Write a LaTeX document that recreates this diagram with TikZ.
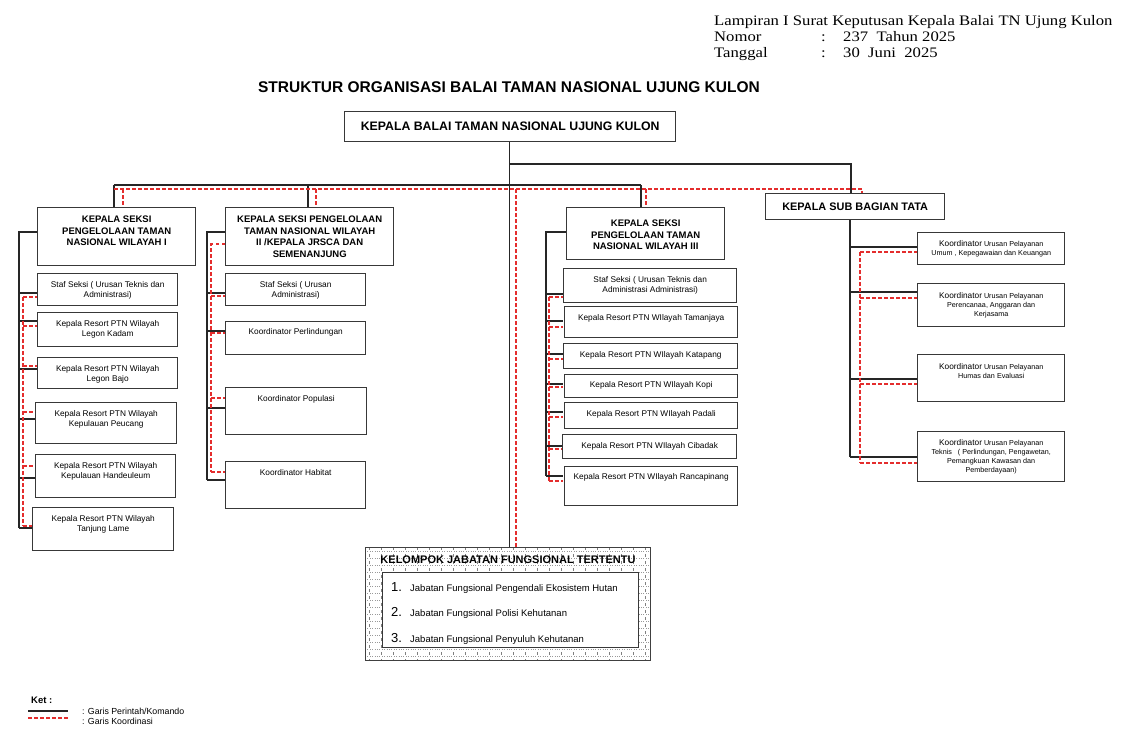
\documentclass[tikz,border=0pt]{standalone}
\usepackage{fontspec}
\setmainfont{Liberation Sans}
\newfontfamily\hdrfont[FakeStretch=1.15]{Liberation Serif}
\definecolor{crd}{RGB}{228,45,45}
\tikzset{
  cmd/.style={draw=black!85, line width=1.1pt},
  crdl/.style={draw=crd, line width=1.1pt, dash pattern=on 3.5pt off 2.5pt},
  obx/.style={draw=black!78, line width=1.4pt, fill=white, inner sep=0pt, anchor=north west},
  tx/.style={inner sep=0pt, anchor=north, align=center, font=\fontsize{8.3}{10}\selectfont},
  tr/.style={inner sep=0pt, anchor=north, align=center, font=\fontsize{7.2}{9}\selectfont},
  hd/.style={inner sep=0pt, anchor=north, align=center, font=\bfseries\fontsize{9.5}{11.7}\selectfont},
  hdr/.style={inner sep=0pt, anchor=base west, font=\hdrfont\fontsize{14.5}{16}\selectfont},
}
\newcommand{\obox}[8]{%
  \node[obx, minimum width=#4pt, minimum height=#5pt] (#1) at (#2,#3) {};
  \node[#6] (#1t) at ([yshift=-#7pt]#1.north) {#8};}
\newcommand{\kd}{{\fontsize{8.3}{9}\selectfont Koordinator}}
\begin{document}
\begin{tikzpicture}[x=1pt,y=-1pt]
\useasboundingbox (0,0) rectangle (1121,742);

% ---------- header ----------
\node[hdr] (h-l1) at (714,25) {Lampiran I Surat Keputusan Kepala Balai TN Ujung Kulon};
\node[hdr] (h-l2) at (714,41.5) {Nomor};
\node[hdr] (h-c2) at (821,41.5) {:};
\node[hdr] (h-v2) at (843,41.5) {237\ \ Tahun 2025};
\node[hdr] (h-l3) at (714,57.5) {Tanggal};
\node[hdr] (h-c3) at (821,57.5) {:};
\node[hdr] (h-v3) at (843,57.5) {30\ \ Juni\ \ 2025};

\node[font=\bfseries\fontsize{15.5}{18}\selectfont, inner sep=0pt] (title) at (509,87) {STRUKTUR ORGANISASI BALAI TAMAN NASIONAL UJUNG KULON};

% top-level lines (drawn first)
\coordinate (kbS) at (509.5,141);
\coordinate (kelN) at (509.5,547);
\draw[cmd] (kbS) -- (kelN);
\draw[cmd] (509.5,164) -- (851,164) -- (851,193);
\draw[cmd] (114,185) -- (641,185);
\draw[cmd] (114,185) -- (114,207);
\draw[cmd] (308,185) -- (308,207);
\draw[cmd] (641,185) -- (641,207);
\draw[crdl] (114,189) -- (862,189) -- (862,193);
\draw[crdl] (123,189) -- (123,207);
\draw[crdl] (316,189) -- (316,207);
\draw[crdl] (516,189) -- (516,547);
\draw[crdl] (646,189) -- (646,207);

% ---------- column I lines ----------
\draw[cmd] (37,232) -- (19,232) -- (19,528);
\foreach \yy/\xx in {293/37,321/37,369/37,419/35,478/35,528/32} \draw[cmd] (19,\yy) -- (\xx,\yy);
\draw[crdl] (23,297) -- (23,526);
\foreach \yy/\xx in {297/37,326/37,366/37,412/35,466/35,526/32} \draw[crdl] (23,\yy) -- (\xx,\yy);

% ---------- column II lines ----------
\draw[cmd] (225,232) -- (207,232) -- (207,480);
\foreach \yy in {293,331,408,480} \draw[cmd] (207,\yy) -- (225,\yy);
\draw[crdl] (225,244) -- (211,244) -- (211,472);
\foreach \yy in {296,333,398,472} \draw[crdl] (211,\yy) -- (225,\yy);

% ---------- column III lines ----------
\draw[cmd] (566,232) -- (546,232) -- (546,476);
\foreach \yy in {294,321,354,384,412,446,476} \draw[cmd] (546,\yy) -- (563,\yy);
\draw[crdl] (549,297) -- (549,481);
\foreach \yy in {297,327,359,387,417,449,481} \draw[crdl] (549,\yy) -- (563,\yy);

% ---------- right column lines ----------
\draw[cmd] (850,219) -- (850,457);
\foreach \yy in {247,292,379,457} \draw[cmd] (850,\yy) -- (917,\yy);
\draw[crdl] (860,252) -- (860,463);
\foreach \yy in {252,298,384,463} \draw[crdl] (860,\yy) -- (917,\yy);

% ---------- boxes ----------
\node[obx, minimum width=331pt, minimum height=30pt] (kb) at (344,111) {};
\node[font=\bfseries\fontsize{12.3}{14}\selectfont, inner sep=0pt] (kbt) at (kb.center) {KEPALA BALAI TAMAN NASIONAL UJUNG KULON};

\obox{h1}{37}{207}{158}{58}{hd}{8.6}{KEPALA SEKSI\\PENGELOLAAN TAMAN\\NASIONAL WILAYAH I}
\obox{h2}{225}{207}{168}{58}{hd}{8.6}{KEPALA SEKSI PENGELOLAAN\\TAMAN NASIONAL WILAYAH\\II /KEPALA JRSCA DAN\\SEMENANJUNG}
\obox{h3}{566}{207}{158}{52}{hd}{12.6}{KEPALA SEKSI\\PENGELOLAAN TAMAN\\NASIONAL WILAYAH III}
\node[obx, minimum width=179pt, minimum height=26pt] (sb) at (765,193) {};
\node[font=\bfseries\fontsize{10.9}{12}\selectfont, inner sep=0pt] (sbt) at (sb.center) {KEPALA SUB BAGIAN TATA};

% column I
\obox{a1}{37}{273}{140}{32}{tx}{8}{Staf Seksi ( Urusan Teknis dan\\Administrasi)}
\obox{a2}{37}{312}{140}{34}{tx}{8}{Kepala Resort PTN Wilayah\\Legon Kadam}
\obox{a3}{37}{357}{140}{31}{tx}{8}{Kepala Resort PTN Wilayah\\Legon Bajo}
\obox{a4}{35}{402}{141}{41}{tx}{8}{Kepala Resort PTN Wilayah\\Kepulauan Peucang}
\obox{a5}{35}{454}{140}{43}{tx}{8}{Kepala Resort PTN Wilayah\\Kepulauan Handeuleum}
\obox{a6}{32}{507}{141}{43}{tx}{8}{Kepala Resort PTN Wilayah\\Tanjung Lame}

% column II
\obox{b1}{225}{273}{140}{32}{tx}{8}{Staf Seksi ( Urusan\\Administrasi)}
\obox{b2}{225}{321}{140}{33}{tx}{7}{Koordinator Perlindungan}
\obox{b3}{225}{387}{141}{47}{tx}{8}{Koordinator Populasi}
\obox{b4}{225}{461}{140}{47}{tx}{8}{Koordinator Habitat}

% column III
\obox{c1}{563}{268}{173}{34}{tx}{8}{Staf Seksi ( Urusan Teknis dan\\Administrasi Administrasi)}
\obox{c2}{564}{306}{173}{31}{tx}{8}{Kepala Resort PTN WIlayah Tamanjaya}
\obox{c3}{563}{343}{174}{25}{tx}{8}{Kepala Resort PTN WIlayah Katapang}
\obox{c4}{564}{374}{173}{23}{tx}{7}{Kepala Resort PTN WIlayah Kopi}
\obox{c5}{564}{402}{173}{26}{tx}{8}{Kepala Resort PTN WIlayah Padali}
\obox{c6}{562}{434}{174}{24}{tx}{8}{Kepala Resort PTN WIlayah Cibadak}
\obox{c7}{564}{466}{173}{39}{tx}{7}{Kepala Resort PTN WIlayah Rancapinang}

% right column
\obox{d1}{917}{232}{147}{32}{tr}{8}{\kd{} Urusan Pelayanan\\Umum , Kepegawaian dan Keuangan}
\obox{d2}{917}{283}{147}{43}{tr}{9}{\kd{} Urusan Pelayanan\\Perencanaa, Anggaran dan\\Kerjasama}
\obox{d3}{917}{354}{147}{47}{tr}{9}{\kd{} Urusan Pelayanan\\Humas dan Evaluasi}
\obox{d4}{917}{431}{147}{50}{tr}{8}{\kd{} Urusan Pelayanan\\Teknis\ \ \ ( Perlindungan, Pengawetan,\\Pemangkuan Kawasan dan\\Pemberdayaan)}

% ---------- kelompok jabatan fungsional ----------
\node[draw=none, fill=white, minimum width=285pt, minimum height=113pt, inner sep=0pt, anchor=north west] (kel) at (365,547) {};
\begin{scope}
  \clip (kel.north west) rectangle (kel.south east);
  \foreach \yy in {551,558,...,660}
    \draw[black!40, line width=0.5pt, dash pattern=on 0.8pt off 1.6pt] (365,\yy) -- (650,\yy);
  \foreach \xx in {369,381,...,650}
    \draw[black!50, line width=0.6pt, dash pattern=on 2.5pt off 4.5pt] (\xx,547) -- (\xx,660);
\end{scope}
\draw[black!75, line width=0.8pt] (kel.north west) rectangle (kel.south east);
\node[font=\bfseries\fontsize{11}{13}\selectfont, inner sep=0pt] (kelt) at (508,560) {KELOMPOK JABATAN FUNGSIONAL TERTENTU};
\node[obx, minimum width=256pt, minimum height=75pt] (kin) at (382,572) {};
\node[anchor=base west, inner sep=0pt, font=\fontsize{13}{14}\selectfont] (n1) at (391,591) {1.};
\node[anchor=base west, inner sep=0pt, font=\fontsize{9.5}{11}\selectfont] (i1) at (410,591) {Jabatan Fungsional Pengendali Ekosistem Hutan};
\node[anchor=base west, inner sep=0pt, font=\fontsize{13}{14}\selectfont] (n2) at (391,616) {2.};
\node[anchor=base west, inner sep=0pt, font=\fontsize{9.5}{11}\selectfont] (i2) at (410,616) {Jabatan Fungsional Polisi Kehutanan};
\node[anchor=base west, inner sep=0pt, font=\fontsize{13}{14}\selectfont] (n3) at (391,642) {3.};
\node[anchor=base west, inner sep=0pt, font=\fontsize{9.5}{11}\selectfont] (i3) at (410,642) {Jabatan Fungsional Penyuluh Kehutanan};

% ---------- legend ----------
\node[anchor=west, inner sep=0pt, font=\bfseries\fontsize{9.5}{11}\selectfont] (ket) at (31,700) {Ket :};
\coordinate (lgA1) at (28,711); \coordinate (lgB1) at (68,711);
\coordinate (lgA2) at (28,718); \coordinate (lgB2) at (68,718);
\draw[cmd] (lgA1) -- (lgB1);
\draw[crdl] (lgA2) -- (lgB2);
\node[anchor=west, inner sep=0pt, font=\fontsize{8.8}{10}\selectfont] (lg1) at (82,711) {: Garis Perintah/Komando};
\node[anchor=west, inner sep=0pt, font=\fontsize{8.8}{10}\selectfont] (lg2) at (82,721) {: Garis Koordinasi};
\end{tikzpicture}
\end{document}
